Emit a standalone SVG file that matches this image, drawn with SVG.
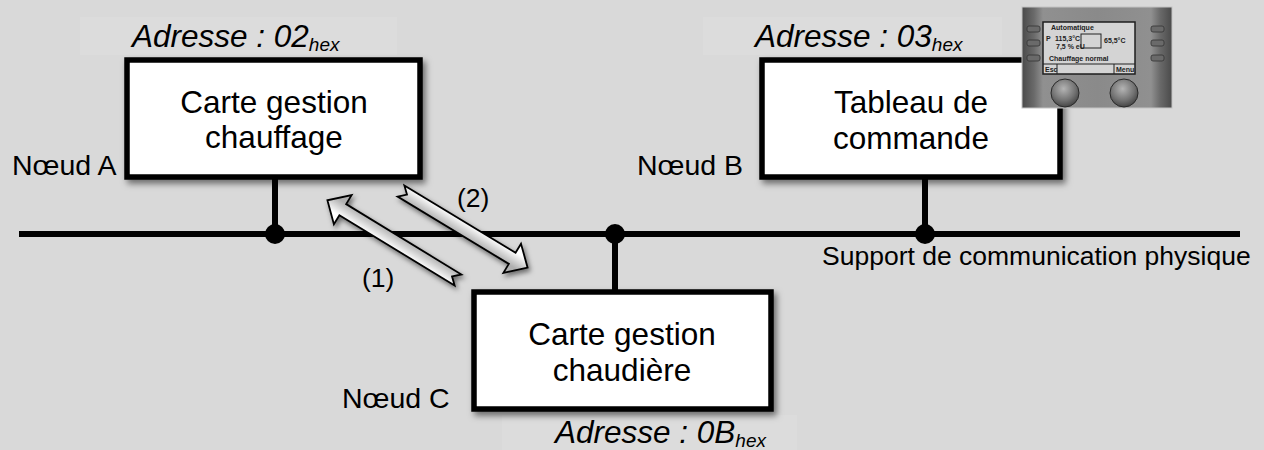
<svg xmlns="http://www.w3.org/2000/svg" width="1264" height="450" viewBox="0 0 1264 450">
<style>
text{font-family:"Liberation Sans",Arial,sans-serif;fill:#000}
.addr{font-size:31.5px;font-style:italic}
.sub{font-size:19px}
.lbl{font-size:31.5px;text-anchor:middle}
.nd{font-size:28.5px}
.small{font-size:26.5px}
.box{fill:#fff;stroke:#000;stroke-width:5.5}
.wire{stroke:#000;stroke-width:6;fill:none}
.arrow{fill:url(#ag);stroke:#000;stroke-width:1.8;stroke-linejoin:miter}
.scr{font-size:7px;font-weight:bold;fill:#222}
</style>
<defs>
<filter id="sh" x="-10%" y="-10%" width="125%" height="130%">
<feDropShadow dx="3" dy="4" stdDeviation="3" flood-color="#000" flood-opacity="0.5"/>
</filter>
<filter id="ash" x="-20%" y="-50%" width="140%" height="200%">
<feDropShadow dx="2" dy="3" stdDeviation="2.5" flood-color="#000" flood-opacity="0.5"/>
</filter>
<linearGradient id="ag" gradientUnits="userSpaceOnUse" x1="0" y1="-7" x2="0" y2="7">
<stop offset="0" stop-color="#ffffff"/>
<stop offset="1" stop-color="#b0b0b0"/>
</linearGradient>
<linearGradient id="pg" x1="0" y1="0" x2="1" y2="0">
<stop offset="0" stop-color="#4a4a4a"/>
<stop offset="0.08" stop-color="#6a6a6a"/>
<stop offset="0.14" stop-color="#909090"/>
<stop offset="0.5" stop-color="#8a8a8a"/>
<stop offset="0.86" stop-color="#909090"/>
<stop offset="0.92" stop-color="#6a6a6a"/>
<stop offset="1" stop-color="#4a4a4a"/>
</linearGradient>
<radialGradient id="kg" cx="0.45" cy="0.35" r="0.7">
<stop offset="0" stop-color="#b4b4b4"/>
<stop offset="0.6" stop-color="#727272"/>
<stop offset="1" stop-color="#3c3c3c"/>
</radialGradient>
</defs>
<rect width="1264" height="450" fill="#d9d9d9"/>
<rect x="80" y="17" width="317" height="38" fill="#dcdcdc"/>
<rect x="703" y="17" width="299" height="38" fill="#dcdcdc"/>
<rect x="502" y="415" width="295" height="35" fill="#dcdcdc"/>

<g id="connectors">
<line class="wire" x1="19" y1="234" x2="1240" y2="234"/>
<line class="wire" x1="275" y1="178" x2="275" y2="234"/>
<line class="wire" x1="925" y1="178" x2="925" y2="234"/>
<line class="wire" x1="615" y1="234" x2="615" y2="291"/>
<circle cx="275" cy="234" r="10" fill="#000"/>
<circle cx="615" cy="234" r="10" fill="#000"/>
<circle cx="925" cy="234" r="10" fill="#000"/>
<g filter="url(#ash)">
<polygon class="arrow" transform="translate(458,280) rotate(211.4)" points="0,-6.5 135,-6.5 135,-17 153,0 135,17 135,6.5 0,6.5 7,0"/>
<polygon class="arrow" transform="translate(401,191) rotate(31.2)" points="0,-6.5 130,-6.5 130,-17 148,0 130,17 130,6.5 0,6.5 7,0"/>
</g>
<text class="small" x="362" y="287">(1)</text>
<text class="small" x="457" y="207">(2)</text>
<text class="small" x="822" y="265">Support de communication physique</text>
</g>

<g id="nodeA">
<text class="addr" x="132" y="47">Adresse : 02<tspan class="sub" dy="4">hex</tspan></text>
<rect class="box" x="127" y="60" width="293" height="117" filter="url(#sh)"/>
<text class="lbl" x="274" y="113">Carte gestion</text>
<text class="lbl" x="274" y="148">chauffage</text>
<text class="nd" x="12" y="175">Nœud A</text>
</g>

<g id="nodeB">
<text class="addr" x="755" y="47">Adresse : 03<tspan class="sub" dy="4">hex</tspan></text>
<rect class="box" x="762" y="60" width="298" height="117" filter="url(#sh)"/>
<text class="lbl" x="911" y="113">Tableau de</text>
<text class="lbl" x="911" y="149">commande</text>
<text class="nd" x="637" y="175">Nœud B</text>
</g>

<g id="nodeC">
<rect class="box" x="474" y="292" width="297" height="117" filter="url(#sh)"/>
<text class="lbl" x="622" y="345">Carte gestion</text>
<text class="lbl" x="622" y="381">chaudière</text>
<text class="nd" x="342" y="408">Nœud C</text>
<text class="addr" x="555" y="443">Adresse : 0B<tspan class="sub" dy="4">hex</tspan></text>
</g>

<g id="photo">
<rect x="1022" y="7" width="150" height="101" fill="url(#pg)" stroke="#c4c4c4" stroke-width="1"/>
<g fill="#6a6a6a" stroke="#333" stroke-width="0.8">
<rect x="1027" y="26" width="13" height="6" rx="2"/>
<rect x="1027" y="40" width="13" height="6" rx="2"/>
<rect x="1027" y="55" width="13" height="6" rx="2"/>
<rect x="1151" y="26" width="13" height="6" rx="2"/>
<rect x="1151" y="40" width="13" height="6" rx="2"/>
<rect x="1151" y="55" width="13" height="6" rx="2"/>
</g>
<rect x="1043" y="22" width="92" height="52" fill="#d4d4d4" stroke="#1e1e1e" stroke-width="1.5"/>
<rect x="1081" y="34" width="20" height="14" fill="none" stroke="#222" stroke-width="1"/>
<line x1="1043" y1="64" x2="1135" y2="64" stroke="#222" stroke-width="1"/>
<line x1="1057" y1="64" x2="1057" y2="74" stroke="#222" stroke-width="1"/>
<line x1="1114" y1="64" x2="1114" y2="74" stroke="#222" stroke-width="1"/>
<text class="scr" x="1051" y="30">Automatique</text>
<text class="scr" x="1046" y="41">P</text>
<text class="scr" x="1055" y="41">115,3°C</text>
<text class="scr" x="1104" y="43">65,5°C</text>
<text class="scr" x="1056" y="49">7,5 % eU</text>
<text class="scr" x="1049" y="61">Chauffage normal</text>
<text class="scr" x="1045" y="72">Esc</text>
<text class="scr" x="1116" y="72">Menu</text>
<circle cx="1065" cy="93" r="14" fill="url(#kg)" stroke="#2a2a2a" stroke-width="1"/>
<circle cx="1124" cy="93" r="14" fill="url(#kg)" stroke="#2a2a2a" stroke-width="1"/>
</g>
</svg>
